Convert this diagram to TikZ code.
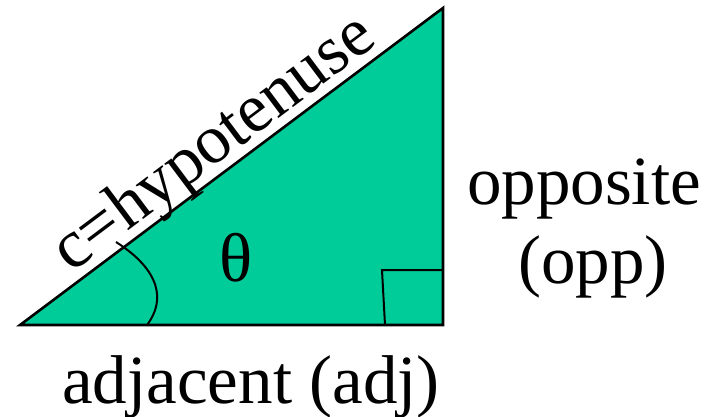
\documentclass[tikz,border=0pt]{standalone}
\usepackage{fontspec}
\setmainfont{Liberation Serif}
\definecolor{trifill}{RGB}{0,204,153}
\begin{document}
\begin{tikzpicture}[x=1pt,y=-1pt,
  lbl/.style={font=\fontsize{69}{69}\selectfont, inner sep=0pt, anchor=base},
  thin line/.style={line width=2pt}]
\useasboundingbox (0,0) rectangle (728,417);
\coordinate (A) at (20,325);
\coordinate (B) at (443,325);
\coordinate (C) at (443,8);
\filldraw[fill=trifill, line width=2.6pt, line join=miter] (A) -- (B) -- (C) -- cycle;
% right angle mark
\coordinate (R1) at (382,270);
\coordinate (R2) at (443,270);
\coordinate (R3) at (385,325);
\draw[thin line] (R2) -- (R1) -- (R3);
% angle arc
\coordinate (P1) at (116,242);
\coordinate (P2) at (147,325);
\draw[thin line] (P1) .. controls (160,270) and (166,300) .. (P2);
% labels
\node[lbl, rotate=36.85] (hyp) at (225,158.5) {c=hypotenuse};
\node[lbl] (theta) at (236,281) {θ};
\node[lbl] (opp1) at (584,204) {opposite};
\node[lbl] (opp2) at (593,283) {(opp)};
\node[lbl] (adj) at (251,403) {adjacent (adj)};
\end{tikzpicture}
\end{document}
